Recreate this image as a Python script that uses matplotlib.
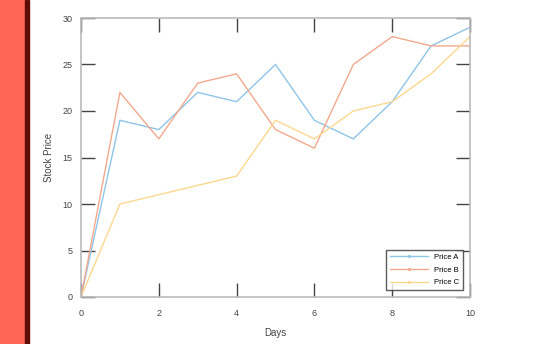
import matplotlib
matplotlib.use("Agg")
import matplotlib.pyplot as plt
from matplotlib.patches import Rectangle
from matplotlib.lines import Line2D

plt.rcParams["font.family"] = ["Liberation Sans", "DejaVu Sans"]

days = list(range(11))
price_a = [0, 19, 18, 22, 21, 25, 19, 17, 21, 27, 29]
price_b = [0, 22, 17, 23, 24, 18, 16, 25, 28, 27, 27]
price_c = [0, 10, 11, 12, 13, 19, 17, 20, 21, 24, 28]

series = [("Price A", price_a, "#8ec5e8"),
          ("Price B", price_b, "#f2a98e"),
          ("Price C", price_c, "#fcd88f")]

fig = plt.figure(figsize=(5.6, 3.44), dpi=100)
# red band on the left edge
fig.patches.append(Rectangle((0, 0), 25 / 560, 1, transform=fig.transFigure,
                             color="#ff6656", zorder=0))
fig.patches.append(Rectangle((25 / 560, 0), 4 / 560, 1, transform=fig.transFigure,
                             color="#5c0d05", zorder=0))

ax = fig.add_axes([81 / 560, 1 - 297 / 344, 389 / 560, 279 / 344])
handles = []
for name, vals, col in series:
    ax.plot(days, vals, color=col, lw=1)
    handles.append(Line2D([], [], color=col, lw=1, marker=".", markersize=2.5, label=name))

ax.set_xlim(0, 10)
ax.set_ylim(0, 30)
ax.set_xticks([0, 2, 4, 6, 8, 10])
ax.set_yticks([0, 5, 10, 15, 20, 25, 30])
ax.tick_params(direction="in", length=10, width=1, color="#444444",
               top=True, right=True, labelsize=6.5, labelcolor="#444444")
ax.tick_params(axis="x", pad=9)
ax.tick_params(axis="y", pad=6)
for s in ax.spines.values():
    s.set_color("#bbbbbb")
    s.set_linewidth(1.2)

ax.set_xlabel("Days", fontsize=7, color="#444444", labelpad=7)
ax.set_ylabel("Stock Price", fontsize=7, color="#444444", labelpad=6)

leg = ax.legend(handles=handles, loc="lower right", fontsize=5.5, frameon=True,
                fancybox=False, borderpad=0.5, handlelength=5, labelspacing=0.7,
                borderaxespad=0.9)
leg.get_frame().set_edgecolor("#333333")
leg.get_frame().set_linewidth(1.0)

fig.savefig("out.png", dpi=100)
